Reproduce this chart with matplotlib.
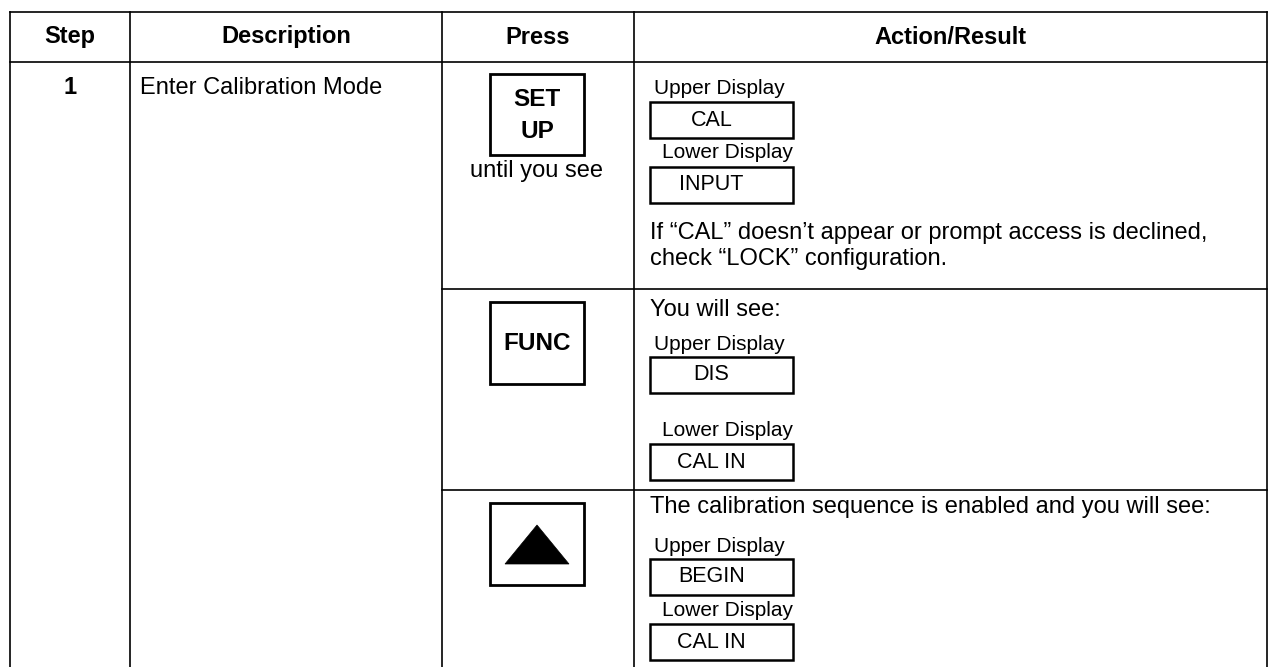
import matplotlib
matplotlib.use("Agg")
import matplotlib.pyplot as plt
from matplotlib.patches import Rectangle, Polygon

plt.rcParams['font.family'] = ['Liberation Sans', 'DejaVu Sans']

# ---- content ----
headers = ["Step", "Description", "Press", "Action/Result"]
step_number = "1"
step_description = "Enter Calibration Mode"
press_keys = ["SET\nUP", "FUNC", "TRIANGLE"]
press_notes = ["until you see", "", ""]
result_intros = ["", "You will see:", "The calibration sequence is enabled and you will see:"]
upper_values = ["CAL", "DIS", "BEGIN"]
lower_values = ["INPUT", "CAL IN", "CAL IN"]
result_notes = ["If \u201cCAL\u201d doesn\u2019t appear or prompt access is declined,\ncheck \u201cLOCK\u201d configuration.", "", ""]

# ---- layout (pixels) ----
W, H = 1272, 667
fig = plt.figure(figsize=(W / 100, H / 100), dpi=100)
ax = fig.add_axes([0, 0, 1, 1])
ax.set_xlim(0, W)
ax.set_ylim(H, 0)
ax.axis('off')

col_x = [10, 130, 442, 634, 1267]
header_top, header_bot = 12, 62
row_seps = [289, 490]
lw = 1.2
FS_HEAD = 17
FS_KEY = 17.5
FS_BODY = 17
FS_LABEL = 15
FS_VALUE = 15.5

def line(x0, y0, x1, y1, w=lw):
    ax.plot([x0, x1], [y0, y1], color='black', lw=w, solid_capstyle='projecting')

line(col_x[0], header_top, col_x[-1], header_top)
line(col_x[0], header_bot, col_x[-1], header_bot)
for x in col_x:
    line(x, header_top, x, H + 2)
for yb in row_seps:
    line(col_x[2], yb, col_x[-1], yb)

for i, h in enumerate(headers):
    ax.text((col_x[i] + col_x[i + 1]) / 2, 37, h, ha='center', va='center',
            fontsize=FS_HEAD, fontweight='bold')

ax.text((col_x[0] + col_x[1]) / 2, 88, step_number, ha='center', va='center',
        fontsize=FS_HEAD, fontweight='bold')
ax.text(140, 88, step_description, ha='left', va='center', fontsize=FS_BODY)

# press key boxes
key_boxes = [(490, 74, 94, 81), (490, 302, 94, 82), (490, 503, 94, 82)]
for (bx, by, bw, bh), key, note in zip(key_boxes, press_keys, press_notes):
    ax.add_patch(Rectangle((bx, by), bw, bh, fill=False, ec='black', lw=2.0))
    cx = bx + bw / 2
    if key == "TRIANGLE":
        ax.add_patch(Polygon([(cx - 32, by + 61), (cx + 32, by + 61), (cx, by + 22)],
                             closed=True, fc='black', ec='black', lw=0.5))
    elif "\n" in key:
        top, bot = key.split("\n")
        ax.text(cx, by + 26, top, ha='center', va='center', fontsize=FS_KEY, fontweight='bold')
        ax.text(cx, by + 57, bot, ha='center', va='center', fontsize=FS_KEY, fontweight='bold')
    else:
        ax.text(cx, by + bh / 2 + 1, key, ha='center', va='center', fontsize=FS_KEY,
                fontweight='bold')
    if note:
        ax.text(cx, by + bh + 16, note, ha='center', va='center', fontsize=FS_BODY)

# action/result column
box_x, box_w, box_h = 650, 143, 36
rows_y = [
    # intro_y, upper_label_y, upper_box_y, lower_label_y, lower_box_y, note_y
    (None, 89, 102, 153, 167, 246),
    (310, 344, 357, 430, 444, None),
    (507, 546, 559, 610, 624, None),
]
for (iy, uly, uby, lly, lby, ny), intro, up, lo, note in zip(rows_y, result_intros, upper_values,
                                                           lower_values, result_notes):
    if intro:
        ax.text(650, iy, intro, ha='left', va='center', fontsize=FS_BODY)
    ax.text(654, uly, "Upper Display", ha='left', va='center', fontsize=FS_LABEL)
    ax.add_patch(Rectangle((box_x, uby), box_w, box_h, fill=False, ec='black', lw=1.8))
    ax.text(box_x + box_w * 0.43, uby + box_h / 2, up, ha='center', va='center', fontsize=FS_VALUE)
    ax.text(662, lly, "Lower Display", ha='left', va='center', fontsize=FS_LABEL)
    ax.add_patch(Rectangle((box_x, lby), box_w, box_h, fill=False, ec='black', lw=1.8))
    ax.text(box_x + box_w * 0.43, lby + box_h / 2, lo, ha='center', va='center', fontsize=FS_VALUE)
    if note:
        ax.text(650, ny, note, ha='left', va='center', fontsize=FS_BODY, linespacing=1.2)

fig.savefig("out.png", dpi=100, facecolor='white')
